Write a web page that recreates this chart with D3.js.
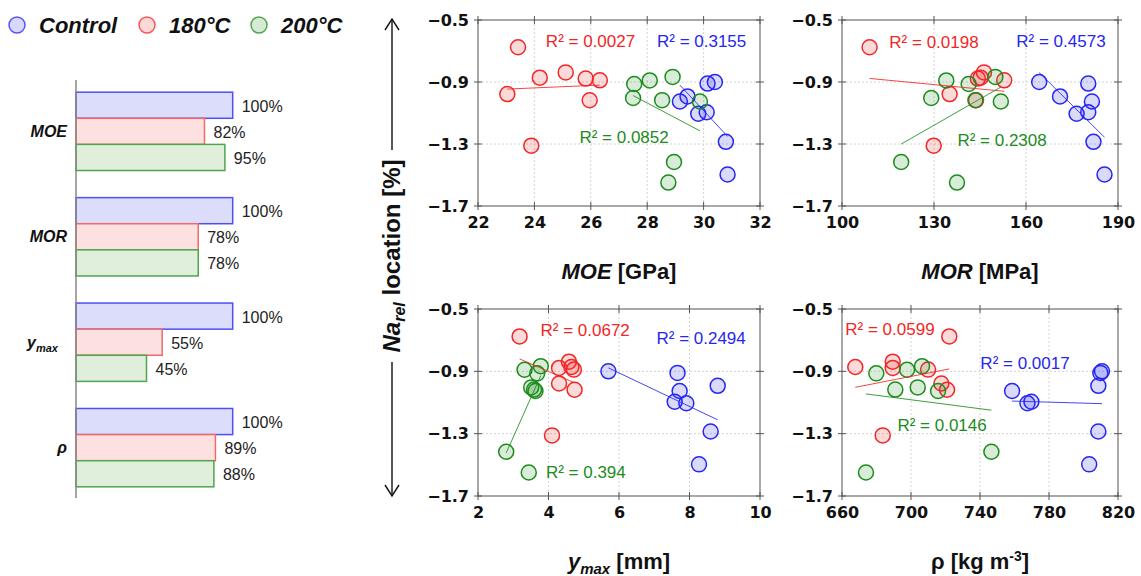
<!DOCTYPE html>
<html>
<head>
<meta charset="utf-8">
<script src="https://cdn.jsdelivr.net/npm/d3@7"></script>
<style>
  body { margin: 0; background: #fff; }
  svg { display: block; font-family: "Liberation Sans", Arial, sans-serif; }
</style>
</head>
<body>
<svg id="chart" width="1141" height="576"></svg>
<script>
// ---- Treatment groups ----
const groups = ["Control", "180°C", "200°C"];

// ---- Relative mechanical properties (% of control) ----
const barCategories = ["MOE", "MOR", "ymax", "rho"];
const relControl = [100, 100, 100, 100];
const rel180 = [82, 78, 55, 89];
const rel200 = [95, 78, 45, 88];

// ---- Na_rel location [%] per specimen ----
const naControl = [-0.900, -0.910, -0.993, -1.026, -1.095, -1.105, -1.286, -1.497];
const na180     = [-0.676, -0.838, -0.872, -0.878, -0.889, -0.978, -1.018, -1.311];
const na200     = [-0.867, -0.890, -0.913, -1.003, -1.017, -1.026, -1.416, -1.549];

// ---- MOE [GPa] ----
const moeControl = [30.40, 30.14, 29.43, 29.16, 30.11, 29.81, 30.79, 30.85];
const moe180     = [23.42, 25.11, 24.19, 25.82, 26.32, 23.04, 25.96, 23.89];
const moe200     = [28.90, 28.09, 27.54, 27.50, 28.53, 29.87, 28.95, 28.75];

// ---- MOR [MPa] ----
const morControl = [164.3, 180.3, 171.1, 181.5, 180.3, 176.5, 182.0, 185.6];
const mor180     = [109.0, 146.3, 145.2, 144.3, 152.9, 135.1, 143.7, 129.9];
const mor200     = [150.0, 134.0, 141.3, 129.1, 143.5, 151.8, 119.3, 137.5];

// ---- y_max [mm] ----
const ymaxControl = [5.70, 7.66, 8.80, 7.72, 7.58, 7.91, 8.60, 8.27];
const ymax180     = [3.18, 4.58, 4.65, 4.30, 4.72, 4.30, 4.74, 4.10];
const ymax200     = [3.78, 3.32, 3.68, 3.51, 3.59, 3.63, 2.80, 3.44];

// ---- density rho [kg m-3] ----
const rhoControl = [810.7, 809.8, 808.6, 758.6, 769.8, 767.5, 808.6, 803.3];
const rho180     = [722.2, 689.4, 667.7, 689.4, 709.9, 717.6, 720.9, 683.6];
const rho200     = [706.4, 697.7, 679.9, 703.9, 690.9, 715.7, 746.6, 673.9];

// ---- Coefficients of determination (Control, 180°C, 200°C) ----
const r2MOE  = ["0.3155", "0.0027", "0.0852"];
const r2MOR  = ["0.4573", "0.0198", "0.2308"];
const r2Ymax = ["0.2494", "0.0672", "0.394"];
const r2Rho  = ["0.0017", "0.0599", "0.0146"];

// ---- Tick values ----
const naTicks   = [-0.5, -0.9, -1.3, -1.7];
const moeTicks  = [22, 24, 26, 28, 30, 32];
const morTicks  = [100, 130, 160, 190];
const ymaxTicks = [2, 4, 6, 8, 10];
const rhoTicks  = [660, 700, 740, 780, 820];

// ---- Styling ----
const strokeCol = ["#2626f2", "#f22626", "#1c8c1c"];
const barFill   = ["#dcdcfb", "#fde0e0", "#dfefdb"];
const barStroke = ["#4f4ff5", "#f06a6a", "#4ea64e"];
const naSeries  = [naControl, na180, na200];

const svg = d3.select("#chart");

// ================= Legend =================
const legendX = [17, 147, 259];
const legend = svg.append("g");
groups.forEach((g, i) => {
  legend.append("circle")
    .attr("cx", legendX[i]).attr("cy", 25).attr("r", 8)
    .attr("fill", strokeCol[i]).attr("fill-opacity", 0.18)
    .attr("stroke", strokeCol[i]).attr("stroke-opacity", 0.75).attr("stroke-width", 1.5);
  legend.append("text")
    .attr("x", legendX[i] + 22).attr("y", 33)
    .attr("font-size", 22).attr("font-weight", "bold").attr("font-style", "italic")
    .attr("fill", "#111")
    .text(g);
});

// ================= Relative bar chart =================
const barX = d3.scaleLinear().domain([0, 100]).range([76, 232.7]);
const bandY = d3.scaleBand().domain(barCategories).range([79, 500])
  .paddingInner(0.257).paddingOuter(0.125);
const subY = d3.scaleBand().domain(groups).range([0, bandY.bandwidth()]);
const relSeries = [relControl, rel180, rel200];

const bars = svg.append("g");
barCategories.forEach((cat, ci) => {
  const gCat = bars.append("g").attr("transform", `translate(0,${bandY(cat)})`);
  groups.forEach((grp, gi) => {
    const v = relSeries[gi][ci];
    gCat.append("rect")
      .attr("x", barX(0)).attr("y", subY(grp))
      .attr("width", barX(v) - barX(0)).attr("height", subY.bandwidth())
      .attr("fill", barFill[gi]).attr("stroke", barStroke[gi]).attr("stroke-width", 1.5);
    gCat.append("text")
      .attr("x", barX(v) + 9).attr("y", subY(grp) + subY.bandwidth() / 2 + 1)
      .attr("dy", "0.35em").attr("font-size", 16).attr("fill", "#222")
      .text(v + "%");
  });
  // category label centred on the middle bar
  const ly = subY(groups[1]) + subY.bandwidth() / 2;
  const t = gCat.append("text")
    .attr("y", ly).attr("dy", "0.35em")
    .attr("text-anchor", "end").attr("font-weight", "bold").attr("font-style", "italic")
    .attr("font-size", 16).attr("fill", "#111");
  if (cat === "ymax") {
    t.attr("x", 58);
    t.append("tspan").text("y");
    t.append("tspan").attr("font-size", 11).attr("dy", 4).text("max");
  } else if (cat === "rho") {
    t.attr("x", 67).text("ρ");
  } else {
    t.attr("x", 67).text(cat);
  }
});
bars.append("line")
  .attr("x1", barX(0)).attr("x2", barX(0))
  .attr("y1", 80).attr("y2", 498)
  .attr("stroke", "#888").attr("stroke-width", 1.5);

// ================= Scatter panels =================
function linFit(xs, ys) {
  const mx = d3.mean(xs), my = d3.mean(ys);
  let sxy = 0, sxx = 0;
  xs.forEach((x, i) => { sxy += (x - mx) * (ys[i] - my); sxx += (x - mx) * (x - mx); });
  const b = sxy / sxx, a = my - b * mx;
  const [lo, hi] = d3.extent(xs);
  return [[lo, a + b * lo], [hi, a + b * hi]];
}

const panels = [
  { box: [478, 20, 282, 186], domain: [22, 32], ticks: moeTicks,
    xs: [moeControl, moe180, moe200], r2: r2MOE, title: "moe",
    labelAt: [[29.93, -0.635], [25.99, -0.635], [27.18, -1.252]] },
  { box: [842, 20, 276, 186], domain: [100, 190], ticks: morTicks,
    xs: [morControl, mor180, mor200], r2: r2MOR, title: "mor",
    labelAt: [[171.4, -0.638], [130.0, -0.64], [152.2, -1.272]] },
  { box: [478, 309, 282, 187], domain: [2, 10], ticks: ymaxTicks,
    xs: [ymaxControl, ymax180, ymax200], r2: r2Ymax, title: "ymax",
    labelAt: [[8.33, -0.686], [5.04, -0.635], [5.06, -1.546]] },
  { box: [842, 309, 276, 187], domain: [660, 820], ticks: rhoTicks,
    xs: [rhoControl, rho180, rho200], r2: r2Rho, title: "rho",
    labelAt: [[766.1, -0.847], [687.8, -0.628], [718.0, -1.245]] }
];

panels.forEach(p => {
  const [left, top, w, h] = p.box;
  const g = svg.append("g").attr("transform", `translate(${left},${top})`);
  const x = d3.scaleLinear().domain(p.domain).range([0, w]);
  const y = d3.scaleLinear().domain([-0.5, -1.7]).range([0, h]);

  // grid
  g.append("g").selectAll("line").data(p.ticks.slice(1, -1)).join("line")
    .attr("x1", d => x(d)).attr("x2", d => x(d)).attr("y1", 0).attr("y2", h)
    .attr("stroke", "#d4d4d4").attr("stroke-dasharray", "2,2");
  g.append("g").selectAll("line").data(naTicks.slice(1, -1)).join("line")
    .attr("y1", d => y(d)).attr("y2", d => y(d)).attr("x1", 0).attr("x2", w)
    .attr("stroke", "#d4d4d4").attr("stroke-dasharray", "2,2");

  // frame
  g.append("rect").attr("width", w).attr("height", h)
    .attr("fill", "none").attr("stroke", "#6e6e6e").attr("stroke-width", 1.2);

  // crossing tick marks on all four sides
  const tk = g.append("g").attr("stroke", "#555").attr("stroke-width", 1);
  p.ticks.forEach(d => {
    tk.append("line").attr("x1", x(d)).attr("x2", x(d)).attr("y1", h - 4).attr("y2", h + 4);
    tk.append("line").attr("x1", x(d)).attr("x2", x(d)).attr("y1", -4).attr("y2", 4);
  });
  naTicks.forEach(d => {
    tk.append("line").attr("y1", y(d)).attr("y2", y(d)).attr("x1", -4).attr("x2", 4);
    tk.append("line").attr("y1", y(d)).attr("y2", y(d)).attr("x1", w - 4).attr("x2", w + 4);
  });

  // tick labels via axes
  const ax = g.append("g").attr("transform", `translate(0,${h})`)
    .call(d3.axisBottom(x).tickValues(p.ticks).tickSize(0).tickPadding(11).tickFormat(d3.format("d")));
  const ay = g.append("g")
    .call(d3.axisLeft(y).tickValues(naTicks).tickSize(0).tickPadding(9).tickFormat(d3.format(".1f")));
  [ax, ay].forEach(a => {
    a.select(".domain").remove();
    a.selectAll("text").attr("font-family", "'DejaVu Sans', sans-serif")
      .attr("font-weight", "bold").attr("font-size", 16).attr("fill", "#111");
  });

  // points
  groups.forEach((grp, gi) => {
    const pts = p.xs[gi].map((v, i) => [v, naSeries[gi][i]]);
    g.append("g").selectAll("circle").data(pts).join("circle")
      .attr("cx", d => x(d[0])).attr("cy", d => y(d[1])).attr("r", 7.5)
      .attr("fill", strokeCol[gi]).attr("fill-opacity", 0.17)
      .attr("stroke", strokeCol[gi]).attr("stroke-width", 1.5);
  });

  // linear trend lines
  groups.forEach((grp, gi) => {
    const seg = linFit(p.xs[gi], naSeries[gi]);
    g.append("line")
      .attr("x1", x(seg[0][0])).attr("y1", y(seg[0][1]))
      .attr("x2", x(seg[1][0])).attr("y2", y(seg[1][1]))
      .attr("stroke", strokeCol[gi]).attr("stroke-width", 1).attr("stroke-opacity", 0.85);
  });

  // R² labels
  groups.forEach((grp, gi) => {
    const [lx, ly] = p.labelAt[gi];
    g.append("text")
      .attr("x", x(lx)).attr("y", y(ly)).attr("dy", "0.35em")
      .attr("text-anchor", "middle").attr("font-size", 17)
      .attr("fill", strokeCol[gi])
      .text("R² = " + p.r2[gi]);
  });

  // x-axis title
  const t = g.append("text")
    .attr("x", w / 2).attr("y", h + 73)
    .attr("text-anchor", "middle").attr("font-size", 22).attr("font-weight", "bold")
    .attr("fill", "#111");
  if (p.title === "moe") {
    t.append("tspan").attr("font-style", "italic").text("MOE");
    t.append("tspan").text(" [GPa]");
  } else if (p.title === "mor") {
    t.append("tspan").attr("font-style", "italic").text("MOR");
    t.append("tspan").text(" [MPa]");
  } else if (p.title === "ymax") {
    t.append("tspan").attr("font-style", "italic").text("y");
    t.append("tspan").attr("font-style", "italic").attr("font-size", 15).attr("dy", 5).text("max");
    t.append("tspan").attr("dy", -5).text(" [mm]");
  } else {
    t.append("tspan").text("ρ [kg m");
    t.append("tspan").attr("font-size", 14).attr("dy", -8).text("-3");
    t.append("tspan").attr("dy", 8).text("]");
  }
});

// ================= Shared y-axis title with direction arrows =================
const yt = svg.append("g");
yt.append("text")
  .attr("transform", "translate(400,256) rotate(-90)")
  .attr("text-anchor", "middle").attr("font-size", 24).attr("font-weight", "bold")
  .attr("fill", "#111")
  .call(t => {
    t.append("tspan").attr("font-style", "italic").text("Na");
    t.append("tspan").attr("font-style", "italic").attr("font-size", 16).attr("dy", 5).text("rel");
    t.append("tspan").attr("dy", -5).text(" location [%]");
  });
const arrow = yt.append("g").attr("stroke", "#111").attr("stroke-width", 1.4).attr("fill", "none");
arrow.append("line").attr("x1", 392).attr("x2", 392).attr("y1", 150).attr("y2", 19);
arrow.append("path").attr("d", "M385,30 L392,19 L399,30");
arrow.append("line").attr("x1", 392).attr("x2", 392).attr("y1", 362).attr("y2", 496);
arrow.append("path").attr("d", "M385,485 L392,496 L399,485");
</script>
</body>
</html>
